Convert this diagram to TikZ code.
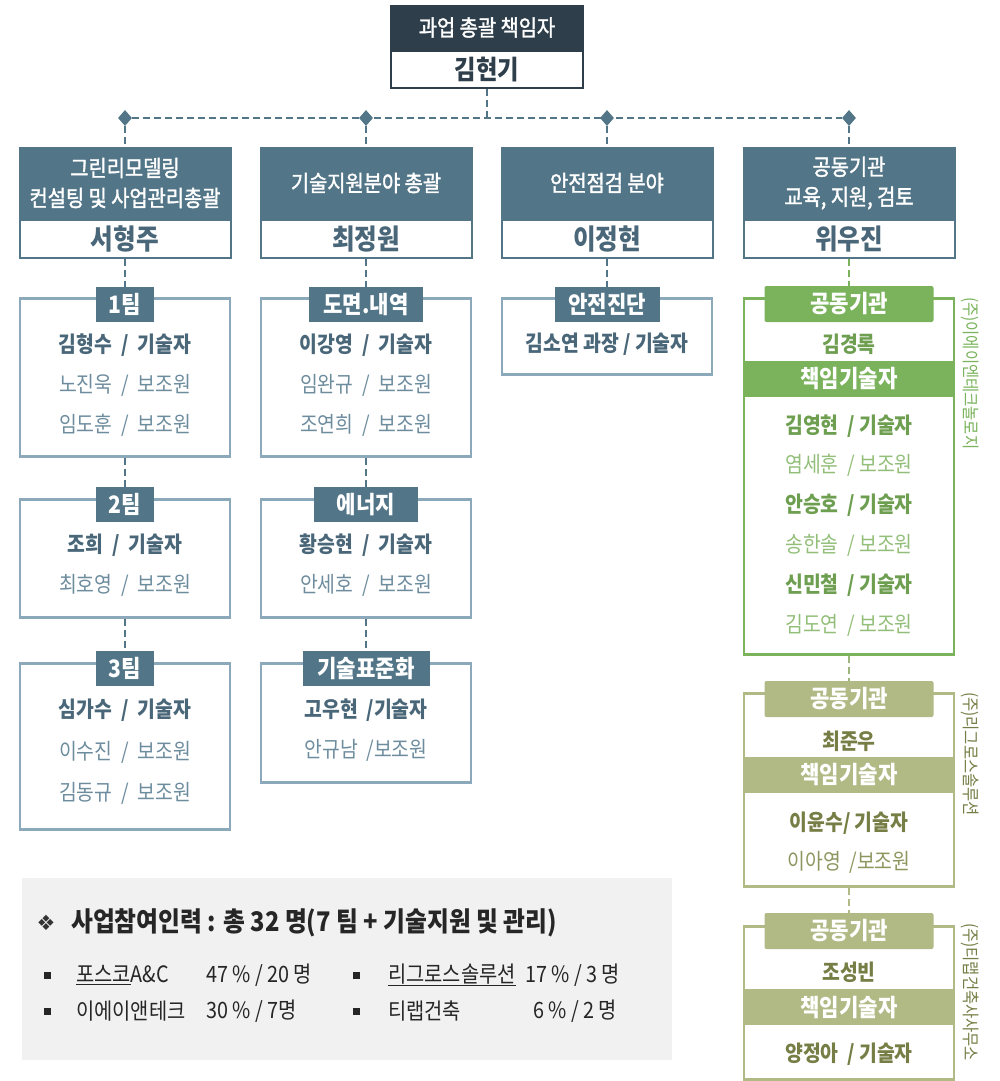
\documentclass[tikz,border=0pt]{standalone}
\usepackage{fontspec}
\setmainfont{Noto Sans CJK KR}[FakeStretch=0.88]
\newfontfamily\headfont{Noto Sans CJK KR}[FakeStretch=0.88, FakeBold=1.6]
\newfontfamily\symfont{DejaVu Sans}
\usetikzlibrary{positioning,shapes.geometric}

\definecolor{topdark}{HTML}{2E3F4B}
\definecolor{steel}{HTML}{527587}
\definecolor{steellight}{HTML}{8BA9BA}
\definecolor{steeltext}{HTML}{4A6779}
\definecolor{steelsoft}{HTML}{6D8C9D}
\definecolor{leaf}{HTML}{7AB35C}
\definecolor{leaftext}{HTML}{6E9E50}
\definecolor{leafsoft}{HTML}{92BE79}
\definecolor{moss}{HTML}{9CB77C}
\definecolor{olive}{HTML}{B1B985}
\definecolor{olivetext}{HTML}{767E45}
\definecolor{olivesoft}{HTML}{8E965F}
\definecolor{panel}{HTML}{F1F1F1}

\begin{document}
\begin{tikzpicture}[
  x = 1pt, y = -1pt,
  link/.style = {draw=steel, line width=2.2pt, dash pattern=on 7pt off 4pt},
  dia/.style = {diamond, fill=steel, inner sep=0pt,
                minimum width=14pt, minimum height=16pt},
  tophead/.style = {rectangle, fill=topdark, draw=topdark, line width=2pt, text=white,
                    minimum width=192pt, minimum height=43pt,
                    font=\headfont\fontsize{22.5}{26}\selectfont},
  topwho/.style = {rectangle, fill=white, draw=topdark, line width=2pt, text=topdark,
                   minimum width=192pt, minimum height=37pt,
                   font=\fontsize{26.5}{28}\selectfont\bfseries},
  head/.style = {rectangle, fill=steel, draw=steel, line width=2pt, text=white,
                 minimum width=211pt, minimum height=70pt, align=center,
                 font=\headfont\fontsize{22.5}{30}\selectfont},
  who/.style = {rectangle, fill=white, draw=steel, line width=2pt, text=steeltext,
                minimum width=211pt, minimum height=38pt,
                font=\fontsize{28}{30}\selectfont\bfseries},
  frame/.style = {rectangle, draw=steellight, line width=2.5pt,
                  minimum width=210pt, anchor=north},
  tag/.style = {rectangle, fill=steel, text=white, inner sep=0pt, minimum height=35pt,
                font=\fontsize{24}{26}\selectfont\bfseries},
  mem/.style = {text=steeltext, inner sep=0pt, font=\fontsize{22}{24}\selectfont\bfseries},
  sub/.style = {text=steelsoft, inner sep=0pt, font=\fontsize{22}{24}\selectfont},
  gframe/.style = {frame, draw=leaf},
  gtag/.style = {rectangle, fill=leaf, text=white, inner sep=0pt, rounded corners=2pt,
                 minimum width=169pt, minimum height=36pt,
                 font=\fontsize{24}{26}\selectfont\bfseries},
  gband/.style = {rectangle, fill=leaf, text=white, inner sep=0pt,
                  minimum width=212pt, minimum height=36pt,
                  font=\fontsize{24}{26}\selectfont\bfseries},
  gmem/.style = {mem, text=leaftext},
  gsub/.style = {sub, text=leafsoft},
  oframe/.style = {frame, draw=olive},
  otag/.style = {gtag, fill=olive},
  oband/.style = {gband, fill=olive},
  omem/.style = {mem, text=olivetext},
  osub/.style = {sub, text=olivesoft},
  side/.style = {rotate=-90, anchor=west, inner sep=0pt,
                 font=\fontsize{17.5}{19}\selectfont},
  item/.style = {anchor=west, inner sep=0pt, text=black!85,
                 font=\fontsize{22.5}{25}\selectfont},
  bul/.style = {rectangle, fill=black!85, inner sep=0pt, minimum size=7pt}
]
\useasboundingbox (0,0) rectangle (1000,1081);

% top
\node[tophead] (toph) at (487,27.5) {과업 총괄 책임자};
\node[topwho, below=0pt of toph] (topw) {김현기};

% bus
\node[dia] (d1) at (125,118) {};
\node[dia] (d2) at (366,118) {};
\node[dia] (d3) at (607,118) {};
\node[dia] (d4) at (849,118) {};
\draw[link] (topw.south) -- (topw.south |- d1.center);
\draw[link] (d1) -- (d4);

% heads
\node[head] (h1) at (125,183) {그린리모델링\\컨설팅 및 사업관리총괄};
\node[who, below=0pt of h1] (w1) {서형주};
\node[head] (h2) at (366,183) {기술지원분야 총괄};
\node[who, below=0pt of h2] (w2) {최정원};
\node[head] (h3) at (607,183) {안전점검 분야};
\node[who, below=0pt of h3] (w3) {이정현};
\node[head] (h4) at (849,183) {공동기관\\교육, 지원, 검토};
\node[who, below=0pt of h4] (w4) {위우진};
\draw[link] (d1) -- (h1);
\draw[link] (d2) -- (h2);
\draw[link] (d3) -- (h3);
\draw[link] (d4) -- (h4);

% teams
\node[frame, minimum height=158pt] (f11) at (125,297) {};
\node[tag, minimum width=58pt] (t11) at (125,304.5) {1팀};
\node[mem] (m111) at (125,345) {김형수~~/~~기술자};
\node[sub] (m112) at (125,385) {노진욱~~/~~보조원};
\node[sub] (m113) at (125,425) {임도훈~~/~~보조원};

\node[frame, minimum height=118pt] (f12) at (125,498) {};
\node[tag, minimum width=58pt] (t12) at (125,504.5) {2팀};
\node[mem] (m121) at (125,545) {조희~~/~~기술자};
\node[sub] (m122) at (125,585) {최호영~~/~~보조원};

\node[frame, minimum height=166pt] (f13) at (125,662) {};
\node[tag, minimum width=58pt] (t13) at (125,668.5) {3팀};
\node[mem] (m131) at (125,710) {심가수~~/~~기술자};
\node[sub] (m132) at (125,752) {이수진~~/~~보조원};
\node[sub] (m133) at (125,793) {김동규~~/~~보조원};

\draw[link] (w1) -- (t11);
\draw[link] (f11) -- (t12);
\draw[link] (f12) -- (t13);

% support
\node[frame, minimum height=158pt] (f21) at (366,297) {};
\node[tag, minimum width=114pt] (t21) at (366,304.5) {도면.내역};
\node[mem] (m211) at (366,345) {이강영~~/~~기술자};
\node[sub] (m212) at (366,385) {임완규~~/~~보조원};
\node[sub] (m213) at (366,425) {조연희~~/~~보조원};

\node[frame, minimum height=118pt] (f22) at (366,498) {};
\node[tag, minimum width=104pt] (t22) at (366,504.5) {에너지};
\node[mem] (m221) at (366,545) {황승현~~/~~기술자};
\node[sub] (m222) at (366,585) {안세호~~/~~보조원};

\node[frame, minimum height=119pt] (f23) at (366,662) {};
\node[tag, minimum width=127pt] (t23) at (366,668.5) {기술표준화};
\node[mem] (m231) at (366,710) {고우현~~/기술자};
\node[sub] (m232) at (366,750) {안규남~~/보조원};

\draw[link] (w2) -- (t21);
\draw[link] (f21) -- (t22);
\draw[link] (f22) -- (t23);

% safety
\node[frame, minimum height=76pt] (f31) at (607,297) {};
\node[tag, minimum width=105pt] (t31) at (607,304.5) {안전진단};
\node[mem] (m311) at (607,344) {김소연 과장 / 기술자};
\draw[link] (w3) -- (t31);

% partners
\node[gframe, minimum height=356pt] (g1) at (849,297) {};
\node[gtag] (gt1) at (849,304) {공동기관};
\node[gmem] (gl1) at (849,344) {김경록};
\node[gband] (gb1) at (849,379) {책임기술자};
\node[gmem] (g11) at (849,426) {김영현~~/~기술자};
\node[gsub] (g12) at (849,465) {염세훈~~/~보조원};
\node[gmem] (g13) at (849,505) {안승호~~/~기술자};
\node[gsub] (g14) at (849,545) {송한솔~~/~보조원};
\node[gmem] (g15) at (849,585) {신민철~~/~기술자};
\node[gsub] (g16) at (849,625) {김도연~~/~보조원};
\node[side, text=leaf] (gs1) at (970,297) {(주)이에이엔테크놀로지};

\node[oframe, minimum height=193pt] (o1) at (849,692) {};
\node[otag] (ot1) at (849,699) {공동기관};
\node[omem] (ol1) at (849,741) {최준우};
\node[oband] (ob1) at (849,775) {책임기술자};
\node[omem] (o11) at (849,823) {이윤수/~기술자};
\node[osub] (o12) at (849,862) {이아영~~/보조원};
\node[side, text=olivetext] (os1) at (970,692) {(주)리그로스솔루션};

\node[oframe, minimum height=153pt] (o2) at (849,925) {};
\node[otag] (ot2) at (849,931) {공동기관};
\node[omem] (ol2) at (849,972) {조성빈};
\node[oband] (ob2) at (849,1007) {책임기술자};
\node[omem] (o21) at (849,1054) {양정아~~/~기술자};
\node[side, text=olivetext] (os2) at (970,923) {(주)티랩건축사사무소};

\draw[link, draw=leaf] (w4) -- (gt1);
\draw[link, draw=moss] (g1) -- (ot1);
\draw[link, draw=olive] (o1) -- (ot2);

% staff summary
\fill[panel] (22,878) rectangle (672,1060);
\node[text=black!80, inner sep=0pt, font=\symfont\fontsize{21}{24}\selectfont] (lmark) at (46,923) {❖};
\node[item, font=\fontsize{27}{30}\selectfont\bfseries] (lhead) at (71,923)
  {사업참여인력 : 총 32 명(7 팀 + 기술지원 및 관리)};
\node[bul] (lb1) at (47,975) {};
\node[item] (ln1) at (76,975) {\underline{포스코}A\&C};
\node[item] (lv1) at (206,975) {47 \% / 20 명};
\node[bul] (lb2) at (356,975) {};
\node[item] (ln2) at (388,975) {\underline{리그로스솔루션}};
\node[item] (lv2) at (525,975) {17 \% / 3 명};
\node[bul] (lb3) at (47,1011) {};
\node[item] (ln3) at (76,1011) {이에이앤테크};
\node[item] (lv3) at (206,1011) {30 \% / 7명};
\node[bul] (lb4) at (356,1011) {};
\node[item] (ln4) at (388,1011) {티랩건축};
\node[item] (lv4) at (533,1011) {6 \% / 2 명};
\end{tikzpicture}
\end{document}
